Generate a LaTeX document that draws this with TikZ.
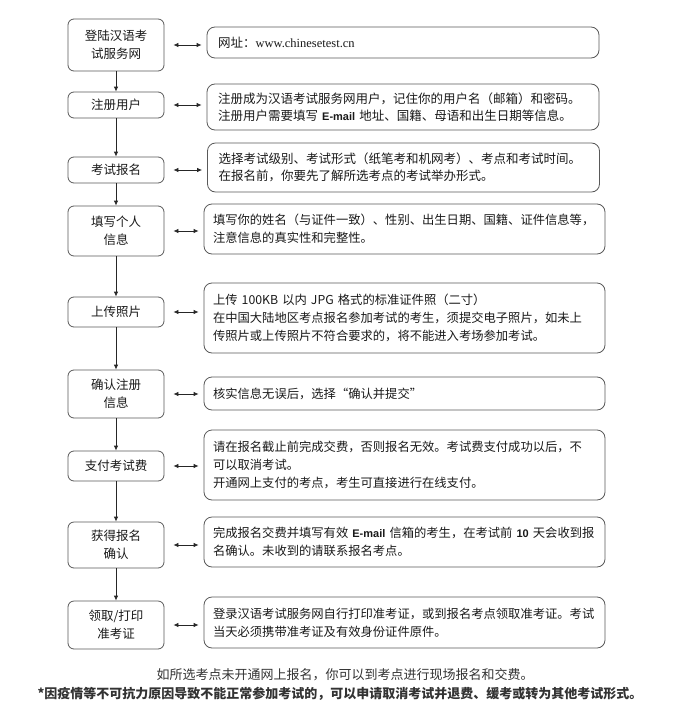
\documentclass[tikz,border=0pt]{standalone}
\usepackage{fontspec}
\setmainfont{Noto Sans CJK SC}
\newfontfamily\webfont{Liberation Serif}
\newfontfamily\latinfont{Liberation Sans}
\newcommand\mailword{{\latinfont\bfseries\fontsize{11}{17}\selectfont E-mail}}
\usetikzlibrary{arrows.meta}

\begin{document}
\begin{tikzpicture}[
  x=1pt, y=-1pt,
  stepbox/.style   = {rectangle, rounded corners=6pt,
                       minimum width=96pt, align=center,
                       draw=black!65, line width=0.8pt, inner sep=2pt,
                       font=\fontsize{12.5}{18}\selectfont, text=black!90},
  infoshort/.style = {rectangle, rounded corners=8pt,
                       minimum width=392pt, text width=370pt, align=left,
                       draw=black!65, line width=0.8pt, inner xsep=11pt,
                       font=\fontsize{12.5}{17}\selectfont, text=black!90},
  infolong/.style  = {rectangle, rounded corners=8pt,
                       minimum width=401pt, text width=383pt, align=left,
                       draw=black!65, line width=0.8pt, inner xsep=9pt,
                       font=\fontsize{12.3}{18}\selectfont, text=black!90},
  arr/.style       = {-{Latex[length=5pt, width=4.5pt]}, line width=0.8pt, color=black!85},
  dbl/.style       = {{Latex[length=5pt, width=4.5pt]}-{Latex[length=5pt, width=4.5pt]},
                       line width=0.8pt, color=black!85,
                       shorten <=9pt, shorten >=5pt},
  note/.style      = {font=\fontsize{13}{16}\selectfont, text=black!80},
]
\useasboundingbox (0,0) rectangle (692,712);

%% Steps
\node[stepbox, minimum height=52pt] (s1) at (116,45)  {登陆汉语考\\试服务网};
\node[stepbox, minimum height=26pt] (s2) at (116,105) {注册用户};
\node[stepbox, minimum height=26pt] (s3) at (116,170) {考试报名};
\node[stepbox, minimum height=50pt] (s4) at (116,231) {填写个人\\信息};
\node[stepbox, minimum height=30pt] (s5) at (116,312) {上传照片};
\node[stepbox, minimum height=48pt] (s6) at (116,394) {确认注册\\信息};
\node[stepbox, minimum height=30pt] (s7) at (116,466) {支付考试费};
\node[stepbox, minimum height=46pt] (s8) at (116,545) {获得报名\\确认};
\node[stepbox, minimum height=48pt] (s9) at (116,625) {领取/打印\\准考证};

%% Details
\node[infoshort, minimum height=31pt] (d1) at (403,42.5)
  {网址：{\webfont www.chinesetest.cn}};
\node[infoshort, minimum height=46pt] (d2) at (403,107)
  {注册成为汉语考试服务网用户，记住你的用户名（邮箱）和密码。\\
   注册用户需要填写~\mailword~地址、国籍、母语和出生日期等信息。};
\node[infoshort, minimum height=49pt] (d3) at (403.5,167.5)
  {选择考试级别、考试形式（纸笔考和机网考）、考点和考试时间。\\
   在报名前，你要先了解所选考点的考试举办形式。};
\node[infolong, minimum height=50pt] (d4) at (404.5,229)
  {填写你的姓名（与证件一致）、性别、出生日期、国籍、证件信息等，\\
   注意信息的真实性和完整性。};
\node[infolong, minimum height=70pt] (d5) at (404.5,318)
  {上传~100KB~以内~JPG~格式的标准证件照（二寸）\\
   在中国大陆地区考点报名参加考试的考生，须提交电子照片，如未上\\
   传照片或上传照片不符合要求的，将不能进入考场参加考试。};
\node[infolong, minimum height=33pt] (d6) at (404.5,393.5)
  {核实信息无误后，选择“确认并提交”};
\node[infolong, minimum height=70pt] (d7) at (404.5,465)
  {请在报名截止前完成交费，否则报名无效。考试费支付成功以后，不\\
   可以取消考试。\\
   开通网上支付的考点，考生可直接进行在线支付。};
\node[infolong, minimum height=50pt] (d8) at (404.5,542)
  {完成报名交费并填写有效~\mailword~信箱的考生，在考试前~{\latinfont\bfseries\fontsize{11}{17}\selectfont 10}~天会收到报\\
   名确认。未收到的请联系报名考点。};
\node[infolong, minimum height=51pt] (d9) at (404.5,622.5)
  {登录汉语考试服务网自行打印准考证，或到报名考点领取准考证。考试\\
   当天必须携带准考证及有效身份证件原件。};

%% Flow arrows
\foreach \a/\b in {s1/s2, s2/s3, s3/s4, s4/s5, s5/s6, s6/s7, s7/s8, s8/s9}
  \draw[arr] (\a) -- (\b);

%% Step <-> detail
\foreach \n in {1,...,9}
  \draw[dbl] (s\n.east) -- (s\n.east -| d\n.west);

%% Notes
\node[note] (n1) at (345,675) {如所选考点未开通网上报名，你可以到考点进行现场报名和交费。};
\node[note, font=\fontsize{13}{16}\selectfont\bfseries] (n2) at (340,694)
  {*因疫情等不可抗力原因导致不能正常参加考试的，可以申请取消考试并退费、缓考或转为其他考试形式。};

\end{tikzpicture}
\end{document}
